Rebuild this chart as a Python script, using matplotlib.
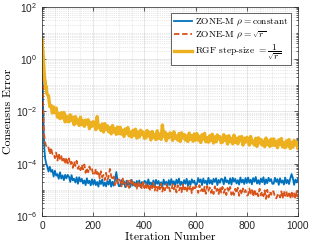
import numpy as np
import matplotlib
matplotlib.use('Agg')
import matplotlib.pyplot as plt
from matplotlib.ticker import LogLocator, MultipleLocator, NullFormatter

iters = [0, 2, 4, 6, 8, 10, 12, 14, 16, 18, 20] + list(range(25, 1001, 5))

# log10 of consensus error, ZONE-M rho = constant (blue)
zone_const = [
    0.0, -1.0, -2.0, -2.8, -3.3, -3.6, -3.8, -3.9, -4.0, -4.05, -4.1,
    -4.30, -4.12, -4.31, -4.24, -4.49, -4.27, -4.46, -4.40, -4.58, -4.33, -4.57, -4.45, -4.63, -4.43, -4.56, -4.43,
    -4.50, -4.70, -4.44, -4.64, -4.58, -4.72, -4.52, -4.77, -4.52, -4.68, -4.58, -4.76, -4.64, -4.82, -4.56, -4.75, -4.65, -4.83, -4.60, -4.80,
    -4.62, -4.82, -4.70, -4.88, -4.64, -4.78, -4.60, -4.85, -4.72, -4.87, -4.66, -4.80, -4.61, -4.88, -4.69, -4.84, -4.63, -4.32, -4.68, -4.86,
    -4.86, -4.63, -4.79, -4.68, -4.90, -4.65, -4.82, -4.73, -4.89, -4.62, -4.84, -4.71, -4.87, -4.66, -4.78, -4.64, -4.90, -4.70, -4.81, -4.66,
    -4.68, -4.87, -4.60, -4.79, -4.72, -4.85, -4.64, -4.88, -4.62, -4.77, -4.66, -4.84, -4.71, -4.88, -4.61, -4.80, -4.69, -4.86, -4.63, -4.82,
    -4.59, -4.79, -4.67, -4.85, -4.61, -4.75, -4.57, -4.82, -4.69, -4.84, -4.63, -4.77, -4.58, -4.85, -4.66, -4.81, -4.60, -4.73, -4.65, -4.83,
    -4.78, -4.55, -4.71, -4.60, -4.82, -4.57, -4.74, -4.65, -4.81, -4.54, -4.76, -4.63, -4.79, -4.58, -4.70, -4.56, -4.82, -4.62, -4.73, -4.58,
    -4.60, -4.79, -4.52, -4.71, -4.64, -4.77, -4.56, -4.80, -4.54, -4.69, -4.58, -4.76, -4.63, -4.80, -4.53, -4.72, -4.61, -4.78, -4.55, -4.74,
    -4.53, -4.73, -4.61, -4.79, -4.55, -4.69, -4.51, -4.76, -4.63, -4.78, -4.57, -4.71, -4.52, -4.79, -4.60, -4.75, -4.54, -4.67, -4.59, -4.77,
    -4.77, -4.54, -4.70, -4.59, -4.81, -4.56, -4.73, -4.64, -4.80, -4.53, -4.75, -4.62, -4.78, -4.57, -4.40, -4.55, -4.81, -4.61, -4.72, -4.57,
]

# log10 of consensus error, ZONE-M rho = sqrt(r) (orange)
zone_sqrt = [
    -0.05, -1.0, -1.9, -2.5, -2.9, -3.07, -3.2, -3.28, -3.32, -3.38, -3.42,
    -3.38, -3.64, -3.39, -3.63, -3.60, -3.79, -3.58, -3.88, -3.61, -3.82, -3.71, -3.94, -3.81, -4.02, -3.76, -3.99,
    -3.80, -4.05, -3.93, -4.16, -3.91, -4.09, -3.89, -4.20, -4.07, -4.25, -4.04, -4.22, -4.03, -4.35, -4.16, -4.33, -4.11, -4.28, -4.21, -4.44,
    -4.43, -4.20, -4.40, -4.29, -4.56, -4.29, -4.52, -4.43, -4.63, -4.35, -4.62, -4.50, -4.20, -4.48, -4.63, -4.49, -4.82, -4.61, -4.75, -4.60,
    -4.65, -4.87, -4.57, -4.79, -4.73, -4.88, -4.65, -4.93, -4.63, -4.82, -4.70, -4.90, -4.76, -4.96, -4.67, -4.89, -4.78, -4.97, -4.71, -4.94,
    -4.74, -4.97, -4.83, -5.05, -4.78, -4.94, -4.73, -5.03, -4.88, -5.04, -4.81, -4.98, -4.77, -5.07, -4.86, -5.02, -4.78, -4.93, -4.85, -5.06,
    -5.04, -4.79, -4.98, -4.85, -5.10, -4.82, -5.02, -4.91, -5.09, -4.79, -5.05, -4.91, -5.09, -4.85, -4.98, -4.83, -5.13, -4.90, -5.02, -4.85,
    -4.91, -5.12, -4.82, -5.04, -4.97, -5.12, -4.88, -5.15, -4.86, -5.04, -4.91, -5.12, -4.97, -5.16, -4.87, -5.08, -4.96, -5.16, -4.89, -5.11,
    -4.89, -5.12, -4.98, -5.20, -4.93, -5.09, -4.89, -5.19, -5.04, -5.20, -4.96, -5.13, -4.92, -5.23, -5.02, -5.18, -4.95, -5.10, -5.01, -5.22,
    -5.20, -4.95, -5.14, -5.01, -5.26, -4.98, -5.18, -5.07, -5.25, -4.96, -5.21, -5.07, -5.25, -5.02, -5.35, -5.00, -5.29, -5.07, -5.19, -5.02,
    -5.08, -5.29, -5.33, -5.21, -5.14, -5.29, -5.06, -5.34, -5.04, -5.23, -5.09, -5.30, -5.14, -5.34, -5.05, -5.27, -5.14, -5.34, -5.06, -5.29,
]

# log10 of consensus error, RGF step-size = 1/sqrt(r) (yellow)
rgf = [
    0.74, 0.40, 0.15, -0.20, -0.50, -0.78, -0.85, -1.10, -1.05, -1.30, -1.35,
    -1.40, -1.82, -1.77, -2.06, -1.83, -2.05, -1.87, -2.22, -2.08, -2.28, -2.05, -2.25, -2.04, -2.40, -2.18, -2.38,
    -2.40, -2.13, -2.35, -2.22, -2.51, -2.20, -2.44, -2.33, -2.54, -2.22, -2.51, -2.36, -2.57, -2.33, -2.48, -2.32, -2.66, -2.42, -2.57, -2.39,
    -2.45, -2.70, -2.20, -2.62, -2.56, -2.73, -2.48, -2.79, -2.47, -2.68, -2.55, -2.78, -2.63, -2.86, -2.54, -2.79, -2.66, -2.88, -2.60, -2.85,
    -2.61, -2.87, -2.72, -2.96, -2.67, -2.84, -2.62, -2.94, -2.79, -2.98, -2.72, -2.91, -2.68, -3.02, -2.79, -2.98, -2.72, -2.89, -2.79, -3.03,
    -3.01, -2.73, -2.94, -2.80, -3.09, -2.77, -2.99, -2.88, -3.08, -2.74, -3.03, -2.87, -3.07, -2.52, -2.96, -2.79, -3.12, -2.87, -3.01, -2.82,
    -2.87, -3.11, -2.78, -3.02, -2.94, -3.10, -2.85, -3.15, -2.82, -3.01, -2.88, -3.10, -2.94, -3.15, -2.83, -3.07, -2.93, -3.14, -2.86, -3.10,
    -2.85, -3.10, -2.96, -3.19, -2.89, -3.06, -2.84, -3.16, -3.00, -3.18, -2.93, -3.11, -2.87, -3.21, -2.98, -3.16, -2.90, -3.06, -2.97, -3.20,
    -3.17, -2.89, -3.10, -2.96, -3.25, -2.93, -3.15, -3.04, -3.24, -2.91, -3.19, -3.03, -3.24, -2.98, -3.12, -2.96, -3.29, -3.03, -3.18, -2.99,
    -3.05, -3.29, -2.96, -3.20, -3.13, -3.29, -3.03, -3.34, -3.01, -3.21, -3.07, -3.29, -3.14, -3.35, -3.02, -3.27, -3.13, -3.34, -3.06, -3.30,
    -3.05, -3.30, -3.16, -3.39, -3.09, -3.27, -3.04, -3.36, -3.21, -3.39, -3.13, -3.32, -3.08, -3.42, -3.19, -3.37, -3.11, -3.28, -3.18, -3.41,
]

labels = [r'ZONE-M $\rho = \mathrm{constant}$',
          r'ZONE-M $\rho = \sqrt{r}$',
          r'RGF step-size $= \dfrac{1}{\sqrt{r}}$']

plt.rcParams['mathtext.fontset'] = 'cm'

fig = plt.figure(figsize=(3.12, 2.44), dpi=100)
ax = fig.add_axes([0.135, 0.115, 0.82, 0.857])

ax.semilogy(iters, 10.0 ** np.array(zone_const), color='#0072BD', lw=1.3, label=labels[0])
ax.semilogy(iters, 10.0 ** np.array(zone_sqrt), color='#D95319', lw=1.3, ls='--', dashes=(3, 1.5), label=labels[1])
ax.semilogy(iters, 10.0 ** np.array(rgf), color='#EDB120', lw=2.4, label=labels[2])

ax.set_xlim(0, 1000)
ax.set_ylim(1e-6, 1e2)
ax.set_xticks([0, 200, 400, 600, 800, 1000])
ax.xaxis.set_minor_locator(MultipleLocator(50))
ax.set_yticks([1e-6, 1e-4, 1e-2, 1e0, 1e2])
ax.yaxis.set_minor_locator(LogLocator(base=10, subs=np.arange(1, 10), numticks=100))
ax.yaxis.set_minor_formatter(NullFormatter())

ax.grid(True, which='major', color='#262626', alpha=0.15, lw=0.5)
ax.grid(True, which='minor', color='#262626', alpha=0.2, lw=0.5, ls=':')

ax.tick_params(which='both', direction='in', top=True, right=True, color='#262626', width=0.5)
ax.tick_params(which='major', length=3, labelsize=7.3, labelcolor='#262626')
ax.tick_params(which='minor', length=1.5)
ax.tick_params(axis='x', which='minor', length=0)
for lab in ax.get_xticklabels() + ax.get_yticklabels():
    lab.set_fontfamily('Liberation Sans')
for s in ax.spines.values():
    s.set_color('#262626')
    s.set_linewidth(0.5)

ax.set_xlabel('Iteration Number', fontfamily='cmr10', fontsize=8.5, labelpad=1)
ax.set_ylabel('Consensus Error', fontfamily='cmr10', fontsize=8.5, labelpad=2)

leg = ax.legend(loc='upper right', prop={'family': 'cmr10', 'size': 6.8}, fancybox=False,
                edgecolor='#262626', framealpha=1, handlelength=1.9, borderpad=0.3,
                labelspacing=0.15, handletextpad=0.3, borderaxespad=0.7)
leg.get_frame().set_linewidth(0.5)

fig.savefig('out.png', dpi=100)
